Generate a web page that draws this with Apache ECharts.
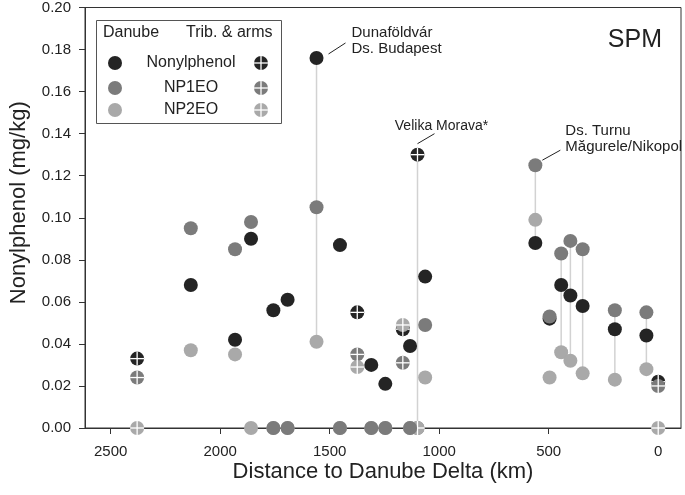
<!DOCTYPE html>
<html>
<head>
<meta charset="utf-8">
<script src="https://cdn.jsdelivr.net/npm/echarts@6/dist/echarts.min.js"></script>
<style>
  html, body { margin: 0; padding: 0; background: #fff; }
  #chart { width: 685px; height: 495px; }
</style>
</head>
<body>
<div id="chart"></div>
<script>
// Danube main-stem sites (distance to delta, km) and concentrations (mg/kg)
const danubeKm = [2134, 1932, 1859, 1757, 1692, 1560, 1453, 1310, 1246, 1133, 1064, 561, 496, 443, 401, 345, 198, 54];
const danubeNonylphenol = [0.068, 0.042, 0.090, 0.056, 0.061, 0.176, 0.087, 0.030, 0.021, 0.039, 0.072, 0.088, 0.052, 0.068, 0.063, 0.058, 0.047, 0.044];
const danubeNP1EO = [0.095, 0.085, 0.098, 0, 0, 0.105, 0, 0, 0, 0, 0.049, 0.125, 0.053, 0.083, 0.089, 0.085, 0.056, 0.055];
const danubeNP2EO = [0.037, 0.035, 0, 0, 0, 0.041, 0, 0, 0, 0, 0.024, 0.099, 0.024, 0.036, 0.032, 0.026, 0.023, 0.028];

// tributaries & arms
const tribKm = [2379, 1374, 1166, 1099, 0];
const tribNonylphenol = [0.033, 0.055, 0.047, 0.130, 0.022];
const tribNP1EO = [0.024, 0.035, 0.031, 0, 0.020];
const tribNP2EO = [0, 0.029, 0.049, 0, 0];

// sites joined by a thin vertical line
const stemKm = [1560, 1099, 561, 443, 401, 345, 198, 54];

const xTicks = [0, 500, 1000, 1500, 2000, 2500];

const noteKm = [1560, 1099, 561];
const noteValue = [0.176, 0.130, 0.125];
const noteText = ['Dunaföldvár\nDs. Budapest', 'Velika Morava*', 'Ds. Turnu\nMăgurele/Nikopol'];

const C_NP = '#242424';
const C_NP1 = '#7b7b7b';
const C_NP2 = '#a9a9a9';
const FONT = '"Liberation Sans", Arial, sans-serif';
const R = 7;

const pairs = (km, vals) => km.map((k, i) => [k, vals[i]]).filter(p => p[1] != null);

// collect every value at a stem site to get the span of the line
const allPoints = [
  ...pairs(danubeKm, danubeNonylphenol), ...pairs(danubeKm, danubeNP1EO), ...pairs(danubeKm, danubeNP2EO),
  ...pairs(tribKm, tribNonylphenol), ...pairs(tribKm, tribNP1EO), ...pairs(tribKm, tribNP2EO),
];
const stems = stemKm.map(k => {
  const v = allPoints.filter(p => p[0] === k).map(p => p[1]);
  return [k, Math.min(...v), Math.max(...v)];
});

function crossItem(color) {
  return (params, api) => {
    const p = api.coord([api.value(0), api.value(1)]);
    return {
      type: 'group',
      children: [
        {type: 'circle', shape: {cx: p[0], cy: p[1], r: R}, style: {fill: color}},
        {type: 'line', shape: {x1: p[0] - R, y1: p[1], x2: p[0] + R, y2: p[1]}, style: {stroke: '#fff', lineWidth: 1.3}},
        {type: 'line', shape: {x1: p[0], y1: p[1] - R, x2: p[0], y2: p[1] + R}, style: {stroke: '#fff', lineWidth: 1.3}},
      ],
    };
  };
}

function dotSeries(name, km, vals, color) {
  return {
    name, type: 'scatter', data: pairs(km, vals), symbol: 'circle', symbolSize: 2 * R,
    itemStyle: {color, opacity: 1}, clip: false,
  };
}

function crossSeries(name, km, vals, color) {
  return {name, type: 'custom', data: pairs(km, vals), renderItem: crossItem(color), clip: false};
}

const chart = echarts.init(document.getElementById('chart'));

chart.setOption({
  animation: false,
  textStyle: {fontFamily: FONT},
  grid: {left: 81, right: 4, top: 7, bottom: 67, show: true, borderColor: '#333', borderWidth: 1},
  xAxis: {
    type: 'value', inverse: true, min: -104, max: 2617,
    name: 'Distance to Danube Delta (km)', nameLocation: 'middle', nameGap: 33, nameMoveOverlap: false,
    nameTextStyle: {fontSize: 22, color: '#222', fontFamily: FONT},
    axisLine: {onZero: false, lineStyle: {color: '#333'}},
    axisTick: {customValues: xTicks, length: 6, lineStyle: {color: '#333'}},
    axisLabel: {customValues: xTicks, fontSize: 15, color: '#222', margin: 16, fontFamily: FONT, formatter: v => String(v)},
    splitLine: {show: false},
  },
  yAxis: {
    type: 'value', min: 0, max: 0.2, interval: 0.02,
    name: 'Nonylphenol (mg/kg)', nameLocation: 'middle', nameGap: 55, nameMoveOverlap: false,
    nameTextStyle: {fontSize: 22, color: '#222', fontFamily: FONT, padding: [0, 0, 0, 30]},
    axisLine: {onZero: false, lineStyle: {color: '#333'}},
    axisTick: {length: 6, lineStyle: {color: '#333'}},
    axisLabel: {fontSize: 15, color: '#222', margin: 14, fontFamily: FONT, formatter: v => v.toFixed(2)},
    splitLine: {show: false},
  },
  series: [
    {
      type: 'custom', data: stems, clip: false,
      renderItem: (params, api) => {
        const a = api.coord([api.value(0), api.value(1)]);
        const b = api.coord([api.value(0), api.value(2)]);
        return {type: 'line', shape: {x1: a[0], y1: a[1], x2: b[0], y2: b[1]}, style: {stroke: '#d2d2d2', lineWidth: 1.5}};
      },
    },
    dotSeries('NP2EO', danubeKm, danubeNP2EO, C_NP2),
    dotSeries('Nonylphenol', danubeKm, danubeNonylphenol, C_NP),
    dotSeries('NP1EO', danubeKm, danubeNP1EO, C_NP1),
    crossSeries('Nonylphenol trib', tribKm, tribNonylphenol, C_NP),
    crossSeries('NP1EO trib', tribKm, tribNP1EO, C_NP1),
    crossSeries('NP2EO trib', tribKm, tribNP2EO, C_NP2),
  ],
});

// legend box and annotations
function crossGraphic(x, y, color) {
  return [
    {type: 'circle', shape: {cx: x, cy: y, r: R}, style: {fill: color}, z: 100},
    {type: 'line', shape: {x1: x - R, y1: y, x2: x + R, y2: y}, style: {stroke: '#fff', lineWidth: 1.3}, z: 101},
    {type: 'line', shape: {x1: x, y1: y - R, x2: x, y2: y + R}, style: {stroke: '#fff', lineWidth: 1.3}, z: 101},
  ];
}

const legendNames = ['Nonylphenol', 'NP1EO', 'NP2EO'];
const legendColors = [C_NP, C_NP1, C_NP2];
const legendRows = [63, 88, 110];
const graphics = [
  {type: 'rect', shape: {x: 96.5, y: 20.5, width: 185, height: 103}, style: {fill: '#fff', stroke: '#555', lineWidth: 1}, z: 99},
  {type: 'text', x: 103, y: 33, style: {text: 'Danube', fontSize: 16, fontFamily: FONT, fill: '#222', verticalAlign: 'middle'}, z: 100},
  {type: 'text', x: 186, y: 33, style: {text: 'Trib. & arms', fontSize: 16, fontFamily: FONT, fill: '#222', verticalAlign: 'middle'}, z: 100},
  {type: 'text', x: 662, y: 40, style: {text: 'SPM', fontSize: 25, fontFamily: FONT, fill: '#222', align: 'right', verticalAlign: 'middle'}, z: 100},
];
legendNames.forEach((n, i) => {
  const y = legendRows[i];
  graphics.push({type: 'circle', shape: {cx: 115, cy: y, r: R}, style: {fill: legendColors[i]}, z: 100});
  graphics.push({type: 'text', x: 191, y, style: {text: n, fontSize: 16, fontFamily: FONT, fill: '#222', align: 'center', verticalAlign: 'middle'}, z: 100});
  graphics.push(...crossGraphic(261, y, legendColors[i]));
});

// leader line offsets and text anchor per note
const noteLayout = [
  {l: [12, -4, 29, -15], tx: 35, ty: -17, align: 'left'},
  {l: [0, -11, 17, -21], tx: 24, ty: -29, align: 'center'},
  {l: [7, -5, 25, -15], tx: 30, ty: -26, align: 'left'},
];
noteText.forEach((t, i) => {
  const p = chart.convertToPixel({gridIndex: 0}, [noteKm[i], noteValue[i]]);
  const o = noteLayout[i];
  graphics.push({type: 'line', shape: {x1: p[0] + o.l[0], y1: p[1] + o.l[1], x2: p[0] + o.l[2], y2: p[1] + o.l[3]}, style: {stroke: '#222', lineWidth: 1}, z: 100});
  graphics.push({type: 'text', x: p[0] + o.tx, y: p[1] + o.ty, style: {text: t, fontSize: i === 1 ? 14 : 15, lineHeight: 16, fontFamily: FONT, fill: '#222', align: o.align, verticalAlign: 'middle'}, z: 100});
});

chart.setOption({graphic: graphics});
</script>
</body>
</html>
